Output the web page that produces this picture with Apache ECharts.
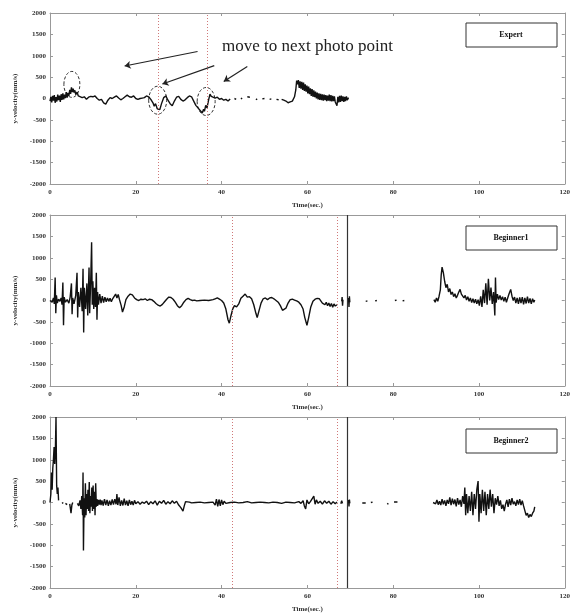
<!DOCTYPE html>
<html>
<head>
<meta charset="utf-8">
<script src="https://cdn.jsdelivr.net/npm/echarts@6/dist/echarts.min.js"></script>
<style>
  html, body { margin: 0; padding: 0; background: #fff; }
  #chart { width: 573px; height: 615px; }
</style>
</head>
<body>
<div id="chart"></div>
<script>
// ---- data: [time (s), y-velocity (mm/s)], null = gap ----
var expertData = [
  [0,-60],[0.2,40],[0.4,-90],[0.6,60],[0.8,-50],[1.0,80],[1.2,-100],[1.4,30],[1.6,-70],[1.8,90],[2.0,-40],[2.2,70],
  [2.4,-80],[2.6,100],[2.8,-30],[3.0,120],[3.2,-20],[3.4,90],[3.6,10],[3.8,150],[4.0,20],[4.2,130],[4.4,60],[4.6,200],
  [4.8,110],[5.0,260],[5.2,150],[5.4,230],[5.6,140],[5.8,190],[6.0,90],[6.3,150],[6.6,60],[7.0,80],[7.5,20],[8,40],
  [8.5,-20],[9,30],[9.5,50],[10,40],[10.5,60],[11,0],[11.5,-40],[12,-20],[12.5,-100],[13,-130],[13.5,-40],[14,20],
  [14.5,0],[15,30],[15.5,60],[16,10],[16.5,-30],[17,0],[17.5,40],[18,80],[18.5,40],[19,30],[19.5,60],[20,0],[20.5,-20],
  [21,0],[21.5,10],[22,20],[22.5,60],[23,40],[23.5,-20],[24,-100],[24.3,-180],[24.6,-120],[25,-240],[25.3,-200],
  [25.6,-260],[26,-120],[26.5,20],[27,60],[27.5,-40],[28,-120],[28.5,-170],[29,-60],[29.5,30],[30,50],[30.5,-20],
  [31,-60],[31.5,-30],[32,20],[32.5,60],[33,40],[33.5,-60],[34,-160],[34.5,-220],[35,-280],[35.5,-340],[35.8,-250],
  [36,-300],[36.3,-160],[36.6,-220],[37,-20],[37.3,100],[37.6,50],[38,80],[38.5,10],[39,30],[39.5,-20],[40,0],
  [40.5,-40],[41,-20],[41.5,-60],[42,-10], null,
  [43,0],[43.4,-20], null, [44.5,-10],[44.8,10], null, [46,40],[46.3,70],[46.6,30], null, [48,-30],[48.3,-10], null,
  [49.5,-10],[50,0], null, [51.2,-20],[51.6,-10], null, [52.8,-20],[53.3,-30], null,
  [54,-20],[54.5,-40],[55,-60],[55.5,-100],[56,-80],[56.5,-60],[57,40],[57.3,200],[57.5,420],[57.7,330],[57.9,430],
  [58.1,250],[58.3,400],[58.5,230],[58.7,390],[58.9,200],[59.1,370],[59.3,180],[59.5,330],[59.7,160],[59.9,300],
  [60.1,120],[60.3,280],[60.5,100],[60.7,240],[60.9,60],[61.1,220],[61.3,40],[61.5,190],[61.7,30],[61.9,160],[62.1,0],
  [62.3,140],[62.5,-20],[62.7,120],[62.9,-30],[63.1,110],[63.3,-40],[63.5,100],[63.7,-50],[63.9,90],[64.1,-40],
  [64.3,80],[64.5,-60],[64.7,70],[64.9,-50],[65.1,90],[65.3,-60],[65.5,80],[65.7,-70],[65.9,60],[66.1,-60],[66.3,50],
  [66.5,-80],[66.7,-40],[66.9,-170],[67.1,40],[67.3,-90],[67.5,60],[67.7,-80],[67.9,70],[68.1,-60],[68.3,50],
  [68.5,-80],[68.7,40],[68.9,-60],[69.1,50],[69.3,-40],[69.6,20]
];

var beginner1Data = [
  [0,0],[0.5,-40],[0.8,60],[1.0,-80],[1.2,540],[1.35,-300],[1.5,120],[1.7,-60],[2,30],[2.3,-20],[2.6,60],[2.8,-100],
  [3.0,420],[3.15,-580],[3.3,80],[3.6,-40],[4.0,20],[4.4,-60],[4.7,80],[5.0,400],[5.15,-320],[5.3,60],[5.6,-80],
  [6.0,120],[6.3,650],[6.45,-400],[6.6,200],[6.9,-150],[7.2,300],[7.5,-250],[7.7,740],[7.85,-750],[8.0,300],[8.3,-200],
  [8.6,400],[8.8,-350],[9.1,770],[9.25,-300],[9.5,500],[9.7,1360],[9.85,-100],[10.0,450],[10.2,-200],[10.4,300],
  [10.6,-150],[10.8,650],[10.95,-450],[11.1,200],[11.3,-100],[11.6,150],[11.9,-60],[12.2,100],[12.5,-50],[12.8,80],
  [13.1,-30],[13.4,60],[13.7,-20],[14,50],[14.3,-30],[14.6,40],[15,20],[15.3,150],[15.6,60],[15.9,140],[16.2,20],
  [16.6,-120],[16.9,-270],[17.3,-150],[17.7,20],[18.2,100],[18.7,150],[19.2,130],[19.7,60],[20.2,20],[20.7,0],[21.2,30],
  [21.7,20],[22.2,40],[22.7,0],[23.2,30],[23.7,20],[24.2,-20],[24.7,-70],[25.2,-110],[25.7,-130],[26.2,-90],[26.7,-30],
  [27.2,30],[27.7,80],[28.2,70],[28.7,30],[29.2,-40],[29.7,-120],[30.2,-170],[30.7,-120],[31.2,-40],[31.7,20],[32.2,50],
  [32.7,20],[33.2,0],[33.7,10],[34.2,-10],[35,0],[36,10],[37,0],[38,20],[38.5,40],[39,60],[39.5,30],[40,0],[40.5,-60],
  [41,-200],[41.5,-450],[41.8,-530],[42.2,-350],[42.6,-200],[43,-120],[43.5,-150],[44,-80],[44.5,50],[45,100],
  [45.5,150],[46,80],[46.5,90],[47,40],[47.5,-100],[48,-300],[48.3,-400],[48.7,-250],[49.2,-60],[49.7,40],[50.2,60],
  [50.7,20],[51.2,60],[51.7,70],[52.2,40],[52.7,0],[53.2,-40],[53.7,-120],[54.2,-230],[54.5,-270],[55,-180],[55.5,-60],
  [56,20],[56.5,30],[57,10],[57.5,-10],[58,-40],[58.5,-100],[59,-200],[59.4,-400],[59.9,-580],[60.3,-400],[60.8,-150],
  [61.3,-20],[61.8,30],[62.3,50],[62.8,40],[63.2,20],[63.5,-60],[63.8,-20],[64.1,-100],[64.4,-40],[64.7,-120],[65,-60],
  [65.3,-140],[65.6,-70],[65.9,-160],[66.2,-80],[66.5,-130],[66.9,-100], null,
  [68.0,-20],[68.1,80],[68.2,-120],[68.3,20], null, [69.6,60],[69.7,-150],[69.8,100],[69.9,-40], null,
  [73.6,-20],[74.0,-10], null, [75.8,-10],[76.2,0], null, [80.4,0],[80.8,10], null, [82.2,-10],[82.6,0], null,
  [89.5,20],[89.8,-40],[90.1,60],[90.4,-20],[90.7,100],[91.0,250],[91.2,600],[91.4,780],[91.7,650],[92,450],[92.3,300],
  [92.6,380],[92.9,200],[93.2,280],[93.5,140],[93.8,200],[94.1,90],[94.4,160],[94.7,60],[95,120],[95.3,200],[95.6,260],
  [95.9,150],[96.2,180],[96.5,60],[96.8,120],[97.1,10],[97.4,90],[97.7,-20],[98,60],[98.3,-50],[98.6,40],[98.9,-60],
  [99.2,30],[99.5,-80],[99.8,20],[100.1,-120],[100.4,100],[100.7,-150],[101,250],[101.3,-60],[101.6,400],[101.9,-100],
  [102.2,510],[102.5,0],[102.8,300],[103.1,-80],[103.4,200],[103.7,-350],[103.85,540],[104,-50],[104.3,150],[104.6,20],
  [104.9,120],[105.2,10],[105.5,90],[105.8,-20],[106.1,80],[106.4,-40],[106.7,60],[107,150],[107.4,260],[107.7,100],
  [108,0],[108.3,80],[108.6,-60],[108.9,60],[109.2,-80],[109.5,70],[109.8,-60],[110.1,80],[110.4,-90],[110.7,60],
  [111,-70],[111.3,90],[111.6,-60],[111.9,50],[112.2,-80],[112.5,40],[112.8,-40],[113,10]
];

var beginner2Data = [
  [0,0],[0.2,200],[0.35,700],[0.5,300],[0.65,800],[0.8,1000],[0.95,1300],[1.1,900],[1.25,1200],[1.4,2000],[1.55,400],
  [1.7,200],[1.85,350],[2.0,50], null,
  [2.8,-20],[3.1,0], null, [3.6,-20],[4.0,-50], null, [4.6,-30],[4.9,-250],[5.1,-60],[5.3,0], null,
  [6.4,-20],[6.7,-80],[7.0,50],[7.2,-150],[7.4,150],[7.6,-300],[7.7,700],[7.8,-1120],[7.95,100],[8.1,-350],[8.25,450],
  [8.4,-300],[8.55,200],[8.7,-150],[8.85,300],[9.0,-200],[9.15,480],[9.3,-250],[9.45,150],[9.6,-100],[9.75,350],
  [9.9,-200],[10.05,400],[10.2,-150],[10.35,250],[10.5,-300],[10.65,450],[10.8,-100],[10.95,80],[11.1,-80],[11.3,60],
  [11.5,-50],[11.7,70],[11.9,-60],[12.1,50],[12.4,-70],[12.7,80],[13,-60],[13.3,60],[13.6,-80],[13.9,40],[14.2,-60],
  [14.5,70],[14.8,-50],[15.1,80],[15.4,-40],[15.6,200],[15.8,-60],[16.1,120],[16.4,-80],[16.7,50],[17,-70],[17.3,90],
  [17.6,-60],[17.9,40],[18.2,-80],[18.5,60],[18.8,-50],[19.1,30],[19.4,-60],[19.7,50],[20,-30],[20.5,20],[21,-40],
  [21.5,10],[22,-20],[22.5,30],[23,-50],[23.5,20],[24,-30],[24.5,40],[25,-60],[25.5,30],[26,-20],[26.5,50],[27,-40],
  [27.5,20],[28,-30],[28.5,40],[29,-20],[29.5,30],[30,-60],[30.5,-120],[31,-200],[31.3,-80],[31.6,20],[32,-20],
  [32.5,10],[33,-10],[34,0],[35,10],[36,-10],[37,0],[38,10],[38.5,-60],[38.8,80],[39.1,-90],[39.4,70],[39.7,-80],
  [40,60],[40.3,-50],[40.6,30],[41,-20],[42,0],[43,10],[44,-10],[45,0],[46,20],[47,-10],[48,0],[49,10],[50,0],[51,-10],
  [52,10],[53,0],[54,-20],[55,10],[56,0],[57,-10],[58,20],[58.5,-20],[59,40],[59.3,-80],[59.6,-150],[59.9,60],
  [60.3,-30],[60.7,20],[61.1,-20],[61.5,150],[61.8,-40],[62.1,60],[62.5,-20],[63,30],[63.5,-40],[64,40],[64.5,-20],
  [65,30],[65.5,-40],[66,20],[66.5,-30],[66.9,10], null,
  [67.8,-30],[68,40],[68.2,-20], null, [69.6,60],[69.7,-90],[69.8,70],[69.9,-20], null,
  [72.8,-10],[73.2,20],[73.6,-10], null, [74.8,0],[75.2,10], null, [78.6,-20],[78.9,-40], null, [80.2,10],[80.6,0],[81,10], null,
  [89.3,0],[89.6,40],[89.9,-30],[90.2,60],[90.5,-50],[90.8,30],[91.1,-60],[91.4,80],[91.7,-40],[92,50],[92.3,-80],
  [92.6,60],[92.9,-30],[93.2,120],[93.5,-60],[93.8,90],[94.1,-40],[94.4,70],[94.7,-90],[95,100],[95.3,-50],[95.6,60],
  [95.9,-100],[96.2,150],[96.5,-30],[96.7,350],[96.9,-300],[97.1,200],[97.4,-250],[97.7,150],[98,-200],[98.3,250],
  [98.6,-300],[98.9,200],[99.2,-150],[99.5,300],[99.8,500],[100,-450],[100.2,200],[100.5,-250],[100.8,300],[101.1,-200],
  [101.4,250],[101.7,-300],[102,200],[102.3,-150],[102.6,300],[102.9,-100],[103.2,200],[103.5,-250],[103.8,100],
  [104.1,-50],[104.4,150],[104.7,-80],[105,50],[105.3,-150],[105.6,-50],[105.9,-200],[106.2,-40],[106.5,60],[106.8,-100],
  [107.1,80],[107.4,-60],[107.7,100],[108,-40],[108.3,20],[108.6,-80],[108.9,60],[109.2,-50],[109.5,80],[109.8,-60],
  [110.1,40],[110.4,-80],[110.7,-100],[111,-300],[111.3,-250],[111.6,-350],[111.9,-280],[112.2,-330],[112.5,-250],
  [112.8,-200],[113,-100]
];

var panelNames = ["Expert", "Beginner1", "Beginner2"];

// vertical marker times per panel
var dottedMarks = [[25.3, 36.7], [42.5, 66.9], [42.5, 66.9]];
var solidMarks = [[], [69.2], [69.2]];

// annotation: arrows [from, to] and dashed circles [t, v] in expert panel
var arrowLines = [
  [[34.4, 1100], [17.4, 760]],
  [[38.3, 770], [26.2, 340]],
  [[46.0, 750], [40.5, 400]]
];
var circles = [[5.1, 330], [25.1, -40], [36.4, -70]];

var chart = echarts.init(document.getElementById("chart"));

function toLine(arr) {
  var out = [];
  for (var i = 0; i < arr.length; i++) {
    if (arr[i] === null) out.push([arr[i - 1][0], "-"]);
    else out.push(arr[i]);
  }
  return out;
}

var labelFont = { fontFamily: "Liberation Serif", fontWeight: "bold", fontSize: 7, color: "#333" };
var gridTops = [13, 215, 417];
var grids = [], xAxes = [], yAxes = [], series = [];
var allData = [expertData, beginner1Data, beginner2Data];

for (var i = 0; i < 3; i++) {
  grids.push({ left: 50, width: 517, top: gridTops[i], height: 171 });
  // bottom axis with labels
  xAxes.push({
    gridIndex: i, type: "value", min: 0, max: 120, interval: 20,
    axisLine: { onZero: false, lineStyle: { color: "#999", width: 1 } },
    axisTick: { inside: true, length: 3, lineStyle: { color: "#999" } },
    axisLabel: Object.assign({ margin: 5 }, labelFont),
    splitLine: { show: false },
    name: "Time(sec.)", nameLocation: "middle", nameGap: 18,
    nameTextStyle: labelFont
  });
  // top mirror axis
  xAxes.push({
    gridIndex: i, type: "value", min: 0, max: 120, interval: 20, position: "top",
    axisLine: { onZero: false, lineStyle: { color: "#999", width: 1 } },
    axisTick: { inside: true, length: 3, lineStyle: { color: "#999" } },
    axisLabel: { show: false }, splitLine: { show: false }
  });
  yAxes.push({
    gridIndex: i, type: "value", min: -2000, max: 2000, interval: 500,
    axisLine: { onZero: false, lineStyle: { color: "#999", width: 1 } },
    axisTick: { inside: true, length: 3, lineStyle: { color: "#999" } },
    axisLabel: Object.assign({ margin: 4, formatter: function (v) { return String(v); } }, labelFont),
    splitLine: { show: false },
    name: "y-velocity(mm/s)", nameLocation: "middle", nameGap: 25, nameRotate: 90,
    nameTextStyle: labelFont
  });
  yAxes.push({
    gridIndex: i, type: "value", min: -2000, max: 2000, interval: 500, position: "right",
    axisLine: { onZero: false, lineStyle: { color: "#999", width: 1 } },
    axisTick: { inside: true, length: 3, lineStyle: { color: "#999" } },
    axisLabel: { show: false }, splitLine: { show: false }
  });

  var markData = [];
  dottedMarks[i].forEach(function (t) {
    markData.push({ xAxis: t, lineStyle: { color: "#d07878", type: [1, 2], width: 1 } });
  });
  solidMarks[i].forEach(function (t) {
    markData.push({ xAxis: t, lineStyle: { color: "#333", type: "solid", width: 1.2 } });
  });
  if (i === 0) {
    arrowLines.forEach(function (a) {
      markData.push([
        { coord: a[0], symbol: "none", lineStyle: { color: "#222", type: "solid", width: 1.2 } },
        { coord: a[1], symbol: "arrow", symbolSize: 6 }
      ]);
    });
  }

  series.push({
    name: panelNames[i], type: "line",
    xAxisIndex: i * 2, yAxisIndex: i * 2,
    data: toLine(allData[i]),
    showSymbol: false, symbol: "none", connectNulls: false,
    lineStyle: { color: "#111", width: 1.4 },
    animation: false, silent: true,
    markLine: {
      silent: true, symbol: "none", animation: false,
      label: { show: false },
      data: markData
    }
  });
}

chart.setOption({
  backgroundColor: "#fff",
  animation: false,
  grid: grids,
  xAxis: xAxes,
  yAxis: yAxes,
  series: series
});

// legend boxes, annotation text and dashed circles
var graphics = [];
for (var j = 0; j < 3; j++) {
  var bt = gridTops[j] + [10, 11, 12][j];
  graphics.push({ type: "rect", shape: { x: 466, y: bt, width: 91, height: 24 },
    style: { fill: "#fff", stroke: "#333", lineWidth: 1 } });
  graphics.push({ type: "text", x: 511, y: bt + 12,
    style: { text: panelNames[j], fill: "#111", font: "bold 8px 'Liberation Serif'", align: "center", verticalAlign: "middle" } });
}
graphics.push({ type: "text", x: 222, y: 47,
  style: { text: "move to next photo point", fill: "#222", font: "17px 'Liberation Serif'", verticalAlign: "middle" } });
var radii = [[8, 13], [9, 14], [9, 14]];
circles.forEach(function (c, k) {
  var p = chart.convertToPixel({ gridIndex: 0 }, c);
  graphics.push({ type: "ellipse", shape: { cx: p[0], cy: p[1], rx: radii[k][0], ry: radii[k][1] },
    style: { fill: "none", stroke: "#333", lineWidth: 1, lineDash: [3, 2] } });
});
chart.setOption({ graphic: graphics });
</script>
</body>
</html>
